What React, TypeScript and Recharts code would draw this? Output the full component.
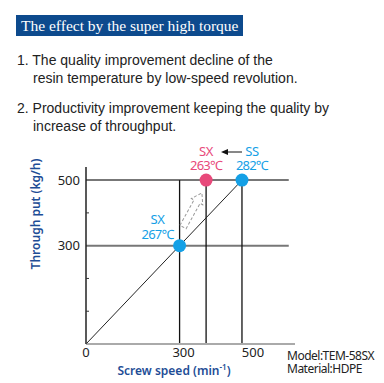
import { ComposedChart, Line, Scatter, XAxis, YAxis, ReferenceLine } from 'recharts'

const speedTicks = [0, 300, 500]
const throughputTicks = [0, 100, 200, 300, 400, 500]
const labeledThroughput = [300, 500]

const lineSpeed = [0, 500]
const lineThroughput = [0, 500]

const pointSpeed = [300, 385, 500]
const pointThroughput = [300, 500, 500]
const pointModel = ['SX', 'SX', 'SS']
const pointTemp = ['267℃', '263℃', '282℃']
const pointColor = ['#14a0e6', '#e8497a', '#14a0e6']

const gridThroughput = [500, 300]
const dropSpeed = [300, 385, 500]

const lineData = lineSpeed.map((x, i) => ({ x, y: lineThroughput[i] }))
const pointData = pointSpeed.map((x, i) => ({
    x,
    y: pointThroughput[i],
    model: pointModel[i],
    temp: pointTemp[i],
    color: pointColor[i],
}))

const numFont = '"Noto Sans", sans-serif'

const XTick = (props: any) => {
    const { x, y, payload } = props
    const shift = payload.value === 500 ? 11 : payload.value === 300 ? 4 : 0
    return (
        <text x={x + shift} y={y + 11} textAnchor="middle" fontSize={13} fill="#222" fontFamily={numFont}>
            {payload.value}
        </text>
    )
}

const YTick = (props: any) => {
    const { x, y, payload } = props
    if (labeledThroughput.includes(payload.value)) {
        return (
            <text x={x} y={y} dy={4.5} textAnchor="end" fontSize={13} fill="#222" fontFamily={numFont}>
                {payload.value}
            </text>
        )
    }
    if (payload.value === 0) return <g />
    return <line x1={x + 6} x2={x + 9} y1={y} y2={y} stroke="#333" strokeWidth={1} />
}

const PointShape = (props: any) => {
    const { cx, cy, payload, index } = props
    const dx = index === 0 ? -22 : index === 2 ? 10 : 0
    const dy = index === 0 ? -21.5 : -24.5
    return (
        <g>
            <circle cx={cx} cy={cy} r={6.5} fill={payload.color} />
            <text x={cx + dx} y={cy + dy} textAnchor="middle" fontSize={13} fill={payload.color} fontFamily={numFont}>
                <tspan x={cx + dx} letterSpacing={-0.3}>{payload.model}</tspan>
                <tspan x={cx + dx} dy={14.5} letterSpacing={-0.8}>{payload.temp}</tspan>
            </text>
        </g>
    )
}

export default function App() {
    return (
        <div style={{ position: 'absolute', left: 0, top: 0, width: 384, height: 383, background: '#fff', overflow: 'hidden' }}>
            <div style={{ position: 'absolute', left: 16, top: 15, width: 227, height: 21, background: '#0d4a8d', color: '#fff', fontFamily: '"Liberation Serif", serif', fontSize: 15.5, lineHeight: '21px', paddingLeft: 5, boxSizing: 'border-box', whiteSpace: 'nowrap', overflow: 'hidden' }}>
                The effect by the super high torque
            </div>
            <div style={{ position: 'absolute', left: 17, top: 51, fontFamily: '"Liberation Sans", Arial, sans-serif', fontSize: 14, lineHeight: '18px', color: '#222', whiteSpace: 'nowrap' }}>
                <div>1. The quality improvement decline of the</div>
                <div style={{ paddingLeft: 16 }}>resin temperature by low-speed revolution.</div>
                <div style={{ marginTop: 12 }}>2. Productivity improvement keeping the quality by</div>
                <div style={{ paddingLeft: 16 }}>increase of throughput.</div>
            </div>
            <div style={{ position: 'absolute', left: 0, top: 0 }}>
                <ComposedChart width={384} height={383} margin={{ top: 167, right: 89, bottom: 9, left: 0 }}>
                    <XAxis
                        type="number"
                        dataKey="x"
                        domain={[0, 670]}
                        ticks={speedTicks}
                        height={30}
                        tickLine={false}
                        tickSize={0}
                        tickMargin={2}
                        axisLine={{ stroke: '#aaa', strokeWidth: 2 }}
                        tick={<XTick />}
                    />
                    <YAxis
                        type="number"
                        dataKey="y"
                        domain={[0, 540]}
                        ticks={throughputTicks}
                        width={86}
                        tickLine={false}
                        tickSize={0}
                        tickMargin={6}
                        axisLine={{ stroke: '#222', strokeWidth: 1.5 }}
                        tick={<YTick />}
                    />
                    {gridThroughput.map((t) => (
                        <ReferenceLine
                            key={'h' + t}
                            segment={[{ x: 0, y: t }, { x: 650, y: t }]}
                            stroke="#777"
                            strokeWidth={2}
                        />
                    ))}
                    {dropSpeed.map((s) => (
                        <ReferenceLine
                            key={'v' + s}
                            segment={[{ x: s, y: 0 }, { x: s, y: 500 }]}
                            stroke="#111"
                            strokeWidth={1.3}
                        />
                    ))}
                    <Line data={lineData} dataKey="y" stroke="#222" strokeWidth={1} dot={false} isAnimationActive={false} />
                    <Scatter data={pointData} dataKey="y" shape={<PointShape />} isAnimationActive={false} />
                </ComposedChart>
            </div>
            <svg width={384} height={383} style={{ position: 'absolute', left: 0, top: 0, pointerEvents: 'none' }}>
                <line x1={242} y1={152} x2={227} y2={152} stroke="#111" strokeWidth={1} />
                <polygon points="221,152 228,149 228,155" fill="#111" />
                <path
                    d="M0,-3.5 L29,-3.5 L29,-6.5 L39,0 L29,6.5 L29,3.5 L0,3.5 Z"
                    transform="translate(183,227) rotate(-61)"
                    fill="none"
                    stroke="#999"
                    strokeWidth={1}
                    strokeDasharray="3 2"
                />
                <text x={37} y={214} transform="rotate(-90 37 214)" textAnchor="middle" dominantBaseline="middle" fontSize={12} fontWeight={600} fill="#1e4d96" fontFamily={numFont}>
                    Through put (kg/h)
                </text>
                <text x={174} y={375} textAnchor="middle" fontSize={12} fontWeight={600} fill="#1e4d96" fontFamily={numFont}>
                    Screw speed (min<tspan fontSize={8} dy={-5}>-1</tspan><tspan dy={5}>)</tspan>
                </text>
                <text x={287} y={360} fontSize={12} fill="#222" fontFamily={numFont} letterSpacing={-0.5}>
                    <tspan x={287}>Model:TEM-58SX</tspan>
                    <tspan x={287} dy={13}>Material:HDPE</tspan>
                </text>
            </svg>
        </div>
    )
}
